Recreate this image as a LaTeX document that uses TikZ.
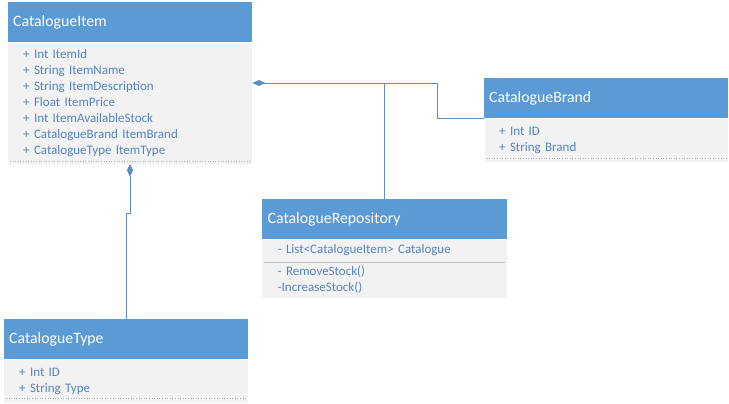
\documentclass[tikz,border=0pt]{standalone}
\usepackage{fontspec}
\setmainfont{Carlito}
\usetikzlibrary{positioning, arrows.meta, calc}
\definecolor{headblue}{HTML}{5B9BD5}
\definecolor{bodygray}{HTML}{F2F2F2}
\definecolor{textblue}{HTML}{5585C0}
\definecolor{lineblue}{HTML}{5B8FC9}
\tikzstyle{head} = [rectangle, anchor=north west, minimum width=244pt, minimum height=40pt, inner xsep=5pt, text width=234pt, align=left, fill=headblue, text=white, font=\fontsize{15.8}{18}\selectfont]
\tikzstyle{body} = [rectangle, minimum width=244pt, inner xsep=15pt, text width=214pt, align=left, fill=bodygray, text=textblue, font=\fontsize{13}{16}\selectfont]
\tikzstyle{sep} = [gray!60, dotted, line width=0.6pt]
\tikzstyle{line} = [lineblue, line width=0.8pt]
\tikzstyle{comp} = [lineblue, line width=0.8pt, {Diamond[length=13pt, width=6pt]}-]

\begin{document}
\begin{tikzpicture}[x=1pt, y=-1pt]
        \useasboundingbox (0,0) rectangle (729,404);
        % \draw[help lines] (0,0) grid[step=50] (729,404);
        \node (ItemH) [head] at (8,2) {CatalogueItem};
        \node (ItemB) [body, minimum height=121pt, below=0pt of ItemH] {+ Int ItemId\\ + String ItemName\\ + String ItemDescription\\ + Float ItemPrice\\ + Int ItemAvailableStock\\ + CatalogueBrand ItemBrand\\ + CatalogueType ItemType};

        \node (BrandH) [head, minimum width=243pt] at (484,78) {CatalogueBrand};
        \node (BrandB) [body, minimum width=243pt, minimum height=43pt, inner xsep=14pt, below=0pt of BrandH] {+ Int ID\\ + String Brand};

        \node (RepoH) [head, minimum width=245pt] at (262,199) {CatalogueRepository};
        \node (RepoA) [body, minimum width=245pt, minimum height=22pt, below=0pt of RepoH] {- List<CatalogueItem> Catalogue};
        \node (RepoM) [body, minimum width=245pt, minimum height=36pt, below=0pt of RepoA] {- RemoveStock()\\ -IncreaseStock()};

        \node (TypeH) [head] at (4,319) {CatalogueType};
        \node (TypeB) [body, minimum height=43pt, below=0pt of TypeH] {+ Int ID\\ + String Type};

        % dotted ends of the class boxes
        \draw [sep] ([xshift=2pt, yshift=3pt]ItemB.south west) -- ([xshift=-2pt, yshift=3pt]ItemB.south east);
        \draw [sep] ([xshift=2pt, yshift=4pt]BrandB.south west) -- ([xshift=-2pt, yshift=4pt]BrandB.south east);
        \draw [sep] ([xshift=2pt, yshift=5pt]TypeB.south west) -- ([xshift=-2pt, yshift=5pt]TypeB.south east);
        \draw [gray!50, line width=0.6pt] ([xshift=2pt]RepoA.south west) -- ([xshift=-2pt]RepoA.south east);

        \coordinate (J2) at (437,83); % the edges to brand and repository meet here
        \coordinate (J1) at (ItemB.east |- J2);
        \coordinate (J3) at (130,213);

        \draw [comp] (J1) -- (J2) |- (BrandH.south west);
        \draw [line] (RepoH.north -| 384,0) -- (384,83);
        \draw [comp] (ItemB.south -| J3) -- (J3) -- ++(-4,0) -- (TypeH.north -| 126,0);

    \end{tikzpicture}
\end{document}
